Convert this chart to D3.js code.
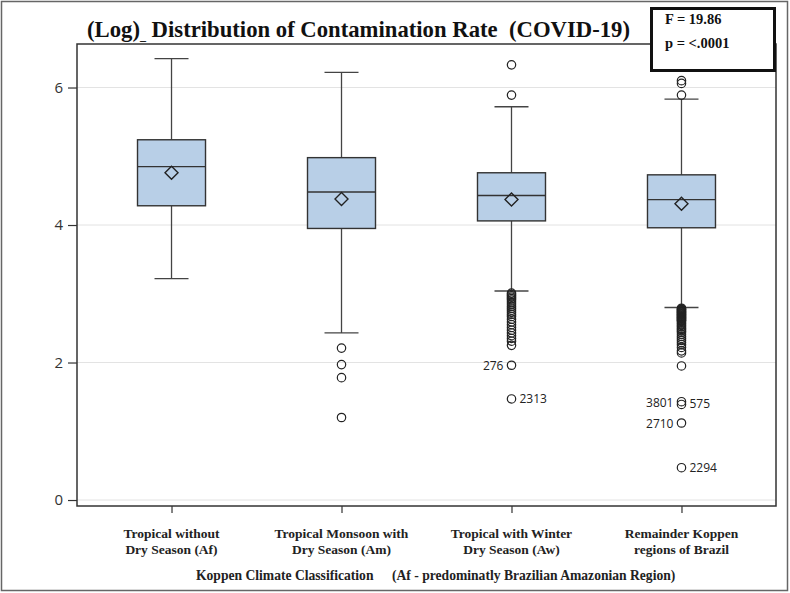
<!DOCTYPE html>
<html>
<head>
<meta charset="utf-8">
<script src="https://cdn.jsdelivr.net/npm/d3@7"></script>
<style>
  html, body { margin: 0; padding: 0; background: #fff; }
  svg { display: block; }
</style>
</head>
<body>
<svg id="chart" width="790" height="593"></svg>
<script>
// ---- data ----
const categories = ["Af", "Am", "Aw", "Remainder"];
const categoryLabels = [
  ["Tropical without", "Dry Season (Af)"],
  ["Tropical Monsoon with", "Dry Season (Am)"],
  ["Tropical with Winter", "Dry Season (Aw)"],
  ["Remainder Koppen", "regions of Brazil"]
];
const whiskerLow  = [3.22, 2.43, 3.04, 2.80];
const q1          = [4.28, 3.95, 4.06, 3.96];
const median      = [4.85, 4.48, 4.43, 4.37];
const mean        = [4.76, 4.38, 4.37, 4.31];
const q3          = [5.24, 4.98, 4.76, 4.73];
const whiskerHigh = [6.42, 6.22, 5.72, 5.83];
const outliersAf  = [];
const outliersAm  = [2.21, 1.97, 1.78, 1.20];
const outliersAw  = [6.33, 5.89, 3.01, 2.99, 2.97, 2.95, 2.93, 2.91, 2.88, 2.85, 2.82, 2.79,
                     2.76, 2.73, 2.70, 2.67, 2.63, 2.59, 2.55, 2.51, 2.47, 2.43, 2.39, 2.35,
                     2.31, 2.25, 1.96, 1.47];
const outliersRem = [6.10, 6.06, 5.89, 2.79, 2.78, 2.77, 2.76, 2.75, 2.74, 2.73, 2.72, 2.71,
                     2.70, 2.69, 2.68, 2.67, 2.66, 2.65, 2.64, 2.63, 2.62, 2.61, 2.60, 2.58,
                     2.56, 2.54, 2.52, 2.50, 2.48, 2.46, 2.44, 2.41, 2.38, 2.35, 2.32, 2.29,
                     2.26, 2.22, 2.17, 2.14, 1.95, 1.43, 1.39, 1.12, 0.47];
const outlierSets = [outliersAf, outliersAm, outliersAw, outliersRem];
const labelCats   = ["Aw", "Aw", "Remainder", "Remainder", "Remainder", "Remainder"];
const labelValues = [1.96, 1.47, 1.42, 1.40, 1.12, 0.47];
const labelTexts  = ["276", "2313", "3801", "575", "2710", "2294"];
const labelSides  = ["left", "right", "left", "right", "left", "right"];
const yTicks = [0, 2, 4, 6];
const titleMain = "(Log)";
const titleRest = " Distribution of Contamination Rate\u00a0 (COVID-19)";
const statLines = ["F = 19.86", "p = <.0001"];
const xTitle1 = "Koppen Climate Classification";
const xTitle2 = "(Af - predominatly Brazilian Amazonian Region)";

// ---- layout ----
const svg = d3.select("#chart");
const W = 790, H = 593;
const plot = { left: 77, right: 776, top: 44, bottom: 506 };

const x = d3.scalePoint().domain(categories).range([plot.left, plot.right]).padding(0.556);
const y = d3.scaleLinear().domain([-0.087, 6.633]).range([plot.bottom, plot.top]);

const serif = "'Liberation Serif', 'Times New Roman', serif";
const sans = "'Open Sans', 'DejaVu Sans', sans-serif";

// outer border
svg.append("rect").attr("x", 1.5).attr("y", 1.5).attr("width", W - 4).attr("height", H - 4)
  .attr("fill", "#fff").attr("stroke", "#666").attr("stroke-width", 1.5);

// gridlines
svg.append("g").selectAll("line").data(yTicks).join("line")
  .attr("x1", plot.left).attr("x2", plot.right)
  .attr("y1", d => y(d)).attr("y2", d => y(d))
  .attr("stroke", "#e3e3e3").attr("stroke-width", 1);

// y axis
const yAxis = d3.axisLeft(y).tickValues(yTicks).tickSize(9).tickPadding(5).tickFormat(d3.format("d"));
const gy = svg.append("g").attr("transform", `translate(${plot.left},0)`).call(yAxis);
gy.select(".domain").remove();
gy.selectAll(".tick line").attr("stroke", "#333").attr("stroke-width", 1.2);
gy.selectAll(".tick text").attr("font-family", sans).attr("font-size", 15).attr("fill", "#333");

// x axis
const xAxis = d3.axisBottom(x).tickSize(7).tickFormat("");
const gx = svg.append("g").attr("transform", `translate(0,${plot.bottom})`).call(xAxis);
gx.select(".domain").remove();
gx.selectAll(".tick line").attr("stroke", "#333").attr("stroke-width", 1.2);

categories.forEach((c, i) => {
  const t = svg.append("text").attr("x", x(c)).attr("y", 538)
    .attr("text-anchor", "middle")
    .attr("font-family", serif).attr("font-weight", "bold").attr("font-size", 13.5).attr("fill", "#222");
  categoryLabels[i].forEach((ln, j) => {
    t.append("tspan").attr("x", x(c)).attr("dy", j === 0 ? 0 : 16).text(ln);
  });
});

// x title
[[xTitle1, 196], [xTitle2, 392]].forEach(([s, xx]) => {
  svg.append("text").attr("x", xx).attr("y", 580)
    .attr("font-family", serif).attr("font-weight", "bold").attr("font-size", 13.6)
    .attr("fill", "#222").text(s);
});

// boxes
const boxW = 68, capW = 34;
const g = svg.append("g");
categories.forEach((c, i) => {
  const cx = x(c);
  g.append("line").attr("x1", cx).attr("x2", cx).attr("y1", y(whiskerHigh[i])).attr("y2", y(q3[i]))
    .attr("stroke", "#444").attr("stroke-width", 1.3);
  g.append("line").attr("x1", cx).attr("x2", cx).attr("y1", y(q1[i])).attr("y2", y(whiskerLow[i]))
    .attr("stroke", "#444").attr("stroke-width", 1.3);
  [whiskerHigh[i], whiskerLow[i]].forEach(v => {
    g.append("line").attr("x1", cx - capW / 2).attr("x2", cx + capW / 2)
      .attr("y1", y(v)).attr("y2", y(v)).attr("stroke", "#444").attr("stroke-width", 1.3);
  });
  g.append("rect").attr("x", cx - boxW / 2).attr("y", y(q3[i]))
    .attr("width", boxW).attr("height", y(q1[i]) - y(q3[i]))
    .attr("fill", "#b8cfe7").attr("stroke", "#333").attr("stroke-width", 1.4);
  g.append("line").attr("x1", cx - boxW / 2).attr("x2", cx + boxW / 2)
    .attr("y1", y(median[i])).attr("y2", y(median[i]))
    .attr("stroke", "#333").attr("stroke-width", 1.4);
  const my = y(mean[i]), r = 6.5;
  g.append("path").attr("d", `M${cx},${my - r}L${cx + r},${my}L${cx},${my + r}L${cx - r},${my}Z`)
    .attr("fill", "none").attr("stroke", "#222").attr("stroke-width", 1.4);
  g.selectAll(null).data(outlierSets[i]).join("circle")
    .attr("cx", cx).attr("cy", d => y(d)).attr("r", 4.2)
    .attr("fill", "none").attr("stroke", "#222").attr("stroke-width", 1.2);
});

// outlier labels
labelTexts.forEach((t, i) => {
  const cx = x(labelCats[i]);
  const left = labelSides[i] === "left";
  svg.append("text")
    .attr("x", left ? cx - 8 : cx + 8).attr("y", y(labelValues[i]) + 4.5)
    .attr("text-anchor", left ? "end" : "start")
    .attr("font-family", sans).attr("font-size", 12).attr("fill", "#222").text(t);
});

// plot frame
svg.append("rect").attr("x", plot.left).attr("y", plot.top)
  .attr("width", plot.right - plot.left).attr("height", plot.bottom - plot.top)
  .attr("fill", "none").attr("stroke", "#333").attr("stroke-width", 1.5);

// title
const title = svg.append("text").attr("x", 87).attr("y", 37)
  .attr("font-family", serif).attr("font-weight", "bold").attr("font-size", 22.7).attr("fill", "#111");
title.append("tspan").text(titleMain);
title.append("tspan").attr("font-size", 12).attr("dy", 3).text("_");
title.append("tspan").attr("dy", -3).text(titleRest);

// stats box
svg.append("rect").attr("x", 651.5).attr("y", 8.5).attr("width", 123).attr("height", 62)
  .attr("fill", "#fff").attr("stroke", "#111").attr("stroke-width", 3);
statLines.forEach((s, i) => {
  svg.append("text").attr("x", 665).attr("y", 24 + i * 24)
    .attr("font-family", serif).attr("font-weight", "bold").attr("font-size", 14.5)
    .attr("fill", "#111").text(s);
});
</script>
</body>
</html>
